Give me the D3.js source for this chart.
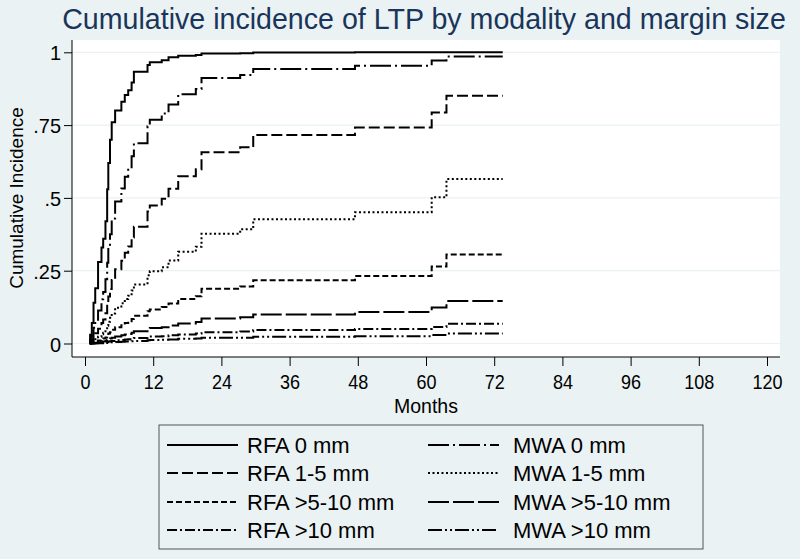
<!DOCTYPE html>
<html><head><meta charset="utf-8">
<script src="https://cdn.jsdelivr.net/npm/d3@7"></script>
<style>html,body{margin:0;padding:0;background:#EAF2F3;}svg{display:block;}</style>
</head><body>
<svg id="c" width="800" height="559"></svg>
<script>
// ---- data ----
const months = [0.85, 0.9,1.2,1.5,1.8,2.3,2.9,3.2,3.6,3.9,4.1, 4.4,4.7,5.3,6.4,7.0,7.6,8.2,8.6,11.0,11.4, 13.5,14.7,16.4,19.5,20.5,27.3,29.6,47.5,61.0,63.6, 73.5];
const rfa0   = [0, 0.03,0.07,0.14,0.19,0.28,0.33,0.36,0.42,0.53,0.62, 0.70,0.76,0.80,0.83,0.853,0.87,0.896,0.933,0.956,0.966, 0.973,0.983,0.988,0.991,0.996,0.997,0.999,1.0,1.0,1.0, 1.0];
const mwa0   = [0, 0.012,0.027,0.054,0.077,0.113,0.152,0.177,0.221,0.277,0.330, 0.375,0.429,0.488,0.532,0.573,0.601,0.643,0.688,0.746,0.768, 0.790,0.821,0.856,0.874,0.912,0.922,0.943,0.954,0.972,0.986, 0.986];
const rfa15  = [0, 0.005,0.012,0.024,0.035,0.051,0.070,0.082,0.104,0.133,0.161, 0.187,0.218,0.255,0.284,0.312,0.333,0.364,0.401,0.453,0.474, 0.497,0.531,0.574,0.598,0.657,0.674,0.716,0.742,0.793,0.851, 0.851];
const mwa15  = [0, 0.002,0.005,0.011,0.015,0.023,0.032,0.037,0.048,0.061,0.075, 0.088,0.103,0.123,0.138,0.153,0.164,0.182,0.203,0.234,0.248, 0.262,0.285,0.315,0.332,0.377,0.392,0.427,0.451,0.502,0.565, 0.565];
const rfa510 = [0, 0.001,0.002,0.005,0.007,0.010,0.014,0.017,0.021,0.027,0.034, 0.039,0.047,0.056,0.063,0.070,0.076,0.084,0.095,0.111,0.117, 0.125,0.137,0.153,0.162,0.188,0.196,0.217,0.232,0.264,0.306, 0.306];
const mwa510 = [0, 0.000,0.001,0.002,0.003,0.004,0.006,0.007,0.009,0.012,0.015, 0.017,0.020,0.024,0.028,0.031,0.033,0.037,0.042,0.049,0.053, 0.056,0.062,0.069,0.074,0.086,0.090,0.100,0.108,0.124,0.146, 0.146];
const rfa10  = [0, 0.000,0.000,0.001,0.001,0.002,0.003,0.003,0.004,0.005,0.007, 0.008,0.009,0.011,0.012,0.014,0.015,0.017,0.019,0.022,0.024, 0.025,0.028,0.031,0.034,0.039,0.041,0.046,0.050,0.057,0.068, 0.068];
const mwa10  = [0, 0.000,0.000,0.000,0.001,0.001,0.001,0.002,0.002,0.003,0.003, 0.004,0.004,0.005,0.006,0.007,0.007,0.008,0.009,0.011,0.012, 0.013,0.014,0.016,0.017,0.020,0.020,0.023,0.025,0.029,0.034, 0.034];
const seriesNames = ["RFA 0 mm","MWA 0 mm","RFA 1-5 mm","MWA 1-5 mm","RFA >5-10 mm","MWA >5-10 mm","RFA >10 mm","MWA >10 mm"];
const seriesValues = [rfa0, mwa0, rfa15, mwa15, rfa510, mwa510, rfa10, mwa10];
const xTicks = [0,12,24,36,48,60,72,84,96,108,120];
const yTicks = [0,0.25,0.5,0.75,1];
const yTickLabels = ["0",".25",".5",".75","1"];
const titleText = "Cumulative incidence of LTP by modality and margin size";
const xTitle = "Months", yTitle = "Cumulative Incidence";

// ---- styles ----
const dashes = ["", "21,4,2,4", "11,4", "2,2.5", "6,3", "21,4", "10,3,2,3", "14,3,2,3,2,3"];
const FONT = "'Liberation Sans', Arial, sans-serif";

const svg = d3.select("#c");
svg.append("rect").attr("width",800).attr("height",559).attr("fill","#EAF2F3");

const plot = {l:72, r:780, t:40, b:357};
const x = d3.scaleLinear().domain([0,120]).range([85,767]);
const y = d3.scaleLinear().domain([0,1]).range([343.5,52.3]);

svg.append("rect").attr("x",plot.l).attr("y",plot.t).attr("width",plot.r-plot.l).attr("height",plot.b-plot.t).attr("fill","#fff");

// grid
svg.append("g").selectAll("line").data(yTicks).join("line")
  .attr("x1",plot.l).attr("x2",plot.r).attr("y1",d=>y(d)).attr("y2",d=>y(d))
  .attr("stroke","#EAF2F3").attr("stroke-width",1.2);

// axes
const yAxis = svg.append("g").attr("transform",`translate(${plot.l},0)`)
  .call(d3.axisLeft(y).tickValues(yTicks).tickFormat((d,i)=>yTickLabels[i]).tickSize(8).tickPadding(3));
yAxis.select(".domain").attr("d",`M0,${plot.t}V${plot.b}`).attr("stroke","#000");
yAxis.selectAll("text").attr("font-family",FONT).attr("font-size",21).attr("fill","#000")
  .attr("transform","scale(0.95,1)").attr("x",-11/0.95).attr("dy","0.36em");

const xAxis = svg.append("g").attr("transform",`translate(0,${plot.b})`)
  .call(d3.axisBottom(x).tickValues(xTicks).tickFormat(d3.format("d")).tickSize(9));
xAxis.select(".domain").attr("d",`M${plot.l},0H${plot.r}`).attr("stroke","#000");
xAxis.selectAll("text").attr("font-family",FONT).attr("font-size",20).attr("fill","#000")
  .attr("y",32).attr("dy",0).attr("transform","scale(0.9,1)");

svg.append("text").attr("x",426).attr("y",413).attr("text-anchor","middle")
  .attr("font-family",FONT).attr("font-size",19.5).text(xTitle);
svg.append("text").attr("transform",`translate(23,198) rotate(-90)`).attr("text-anchor","middle")
  .attr("font-family",FONT).attr("font-size",19).text(yTitle);

svg.append("text").attr("x",424).attr("y",29).attr("text-anchor","middle")
  .attr("font-family",FONT).attr("font-size",28.6).attr("fill","#1A355A").text(titleText);

// curves
const line = d3.line().x(d=>x(d[0])).y(d=>y(d[1])).curve(d3.curveStepAfter);
seriesValues.forEach((vals,i)=>{
  svg.append("path").datum(months.map((m,j)=>[m, vals[j]]))
    .attr("d",line).attr("fill","none").attr("stroke","#000").attr("stroke-width",2)
    .attr("stroke-dasharray",dashes[i] || null);
});

// legend
svg.append("rect").attr("x",159).attr("y",425).attr("width",544).attr("height",124)
  .attr("fill","#EAF2F3").attr("stroke","#555").attr("stroke-width",1);
const rows = [445,473,502,530];
seriesNames.forEach((name,i)=>{
  const col = i%2, row = Math.floor(i/2);
  const lx = col===0 ? 167 : 428, tx = col===0 ? 247 : 513;
  const yy = rows[row];
  svg.append("line").attr("x1",lx).attr("x2",lx+71).attr("y1",yy).attr("y2",yy)
    .attr("stroke","#000").attr("stroke-width",2).attr("stroke-dasharray",dashes[i]||null);
  svg.append("text").attr("x",tx).attr("y",yy).attr("dy","0.36em")
    .attr("font-family",FONT).attr("font-size",22).text(name);
});
</script>
</body></html>
